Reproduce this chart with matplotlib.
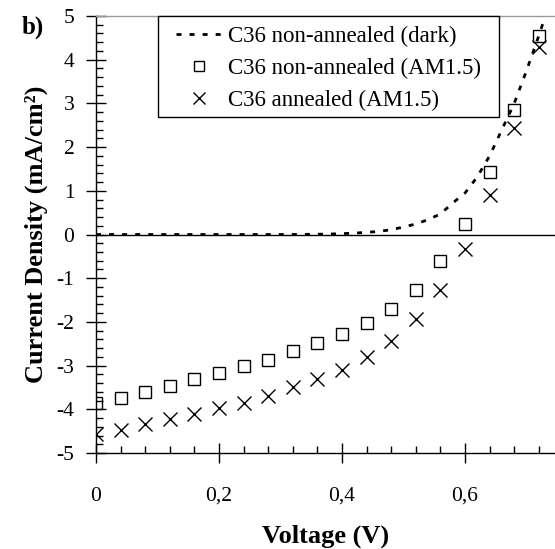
import numpy as np
import matplotlib
matplotlib.use("Agg")
import matplotlib.pyplot as plt
from matplotlib.ticker import MultipleLocator
from matplotlib.patches import Rectangle

#### data
voltage = [0.00, 0.04, 0.08, 0.12, 0.16, 0.20, 0.24, 0.28, 0.32, 0.36,
           0.40, 0.44, 0.48, 0.52, 0.56, 0.60, 0.64, 0.68, 0.72]
j_non_annealed = [-3.85, -3.73, -3.60, -3.47, -3.31, -3.18, -3.02, -2.88, -2.67, -2.49,
                  -2.27, -2.02, -1.71, -1.26, -0.61, 0.25, 1.42, 2.86, 4.55]
j_annealed = [-4.57, -4.47, -4.34, -4.23, -4.11, -3.98, -3.85, -3.70, -3.50, -3.31,
              -3.09, -2.80, -2.44, -1.94, -1.26, -0.34, 0.91, 2.44, 4.29]

v_dark = [0.00, 0.10, 0.20, 0.30, 0.34, 0.38, 0.42, 0.46, 0.48, 0.50, 0.52, 0.54,
          0.56, 0.58, 0.60, 0.62, 0.64, 0.66, 0.68, 0.70, 0.72, 0.74]
j_dark = [0.00, 0.00, 0.00, 0.00, 0.003, 0.01, 0.03, 0.07, 0.11, 0.17, 0.24, 0.34,
          0.47, 0.72, 0.95, 1.32, 1.80, 2.40, 3.00, 3.75, 4.55, 5.40]

x_ticks = [0, 0.2, 0.4, 0.6]
x_ticklabels = ["0", "0,2", "0,4", "0,6"]
y_ticks = [-5, -4, -3, -2, -1, 0, 1, 2, 3, 4, 5]
y_ticklabels = [str(v) for v in y_ticks]

labels = ["C36 non-annealed (dark)", "C36 non-annealed (AM1.5)", "C36 annealed (AM1.5)"]

plt.rcParams['font.family'] = ['Liberation Serif', 'DejaVu Serif']

W, H = 555, 549
fig = plt.figure(figsize=(W / 100, H / 100), dpi=100)
ax = fig.add_axes([96 / W, 1 - 453 / H, 1 - 96 / W, (453 - 16) / H])

ax.axhline(0, color='black', lw=1.0, zorder=1)
ax.plot(v_dark, j_dark, color='black', lw=2.0, linestyle=(0, (1.8, 2.9)), label=labels[0], zorder=2)
ax.plot(voltage, j_non_annealed, linestyle='none', marker='s', ms=9, mfc='none',
        mec='black', mew=1.0, label=labels[1], zorder=3)
ax.plot(voltage, j_annealed, linestyle='none', marker='x', ms=9.5, color='black',
        mew=1.0, label=labels[2], zorder=3)

ax.set_xlim(0, 0.7463)
ax.set_ylim(-5, 5)
ax.set_xticks(x_ticks)
ax.set_xticklabels(x_ticklabels)
ax.set_yticks(y_ticks)
ax.set_yticklabels(y_ticklabels)
ax.xaxis.set_minor_locator(MultipleLocator(0.04))
ax.yaxis.set_minor_locator(MultipleLocator(0.2))

ax.tick_params(axis='both', which='major', direction='inout', length=15, width=1.0, labelsize=15.5)
ax.tick_params(axis='both', which='minor', direction='in', length=5, width=1.0)
ax.tick_params(axis='x', which='major', pad=17)
ax.tick_params(axis='y', which='major', pad=8)

ax.spines['right'].set_visible(False)
ax.spines['top'].set_color('#9a9a9a')
ax.spines['top'].set_linewidth(1.0)
ax.spines['left'].set_linewidth(1.0)
ax.spines['bottom'].set_linewidth(1.0)

ax.set_xlabel("Voltage (V)", fontsize=19, fontweight='bold', labelpad=13)
ax.set_ylabel("Current Density (mA/cm²)", fontsize=19, fontweight='bold', labelpad=6)

fig.text(33 / W, 1 - 27 / H, "b)", fontsize=18, fontweight='bold', ha='center', va='center')

# legend frame: 158..499 px across, 16..117 px down
frame = Rectangle((158 / W, 1 - 117 / H), (499 - 158) / W, (117 - 16) / H,
                  transform=fig.transFigure, facecolor='white', edgecolor='black',
                  lw=1.0, zorder=4, clip_on=False)
ax.add_patch(frame)

leg = ax.legend(loc='upper left', bbox_to_anchor=(176 / W, 1 - 26 / H),
                bbox_transform=fig.transFigure, fontsize=16.5, frameon=False,
                handlelength=2.0, handletextpad=0.25, labelspacing=0.46, borderpad=0,
                borderaxespad=0, markerscale=0.85)
leg.set_zorder(5)

fig.savefig("out.png", dpi=100)
